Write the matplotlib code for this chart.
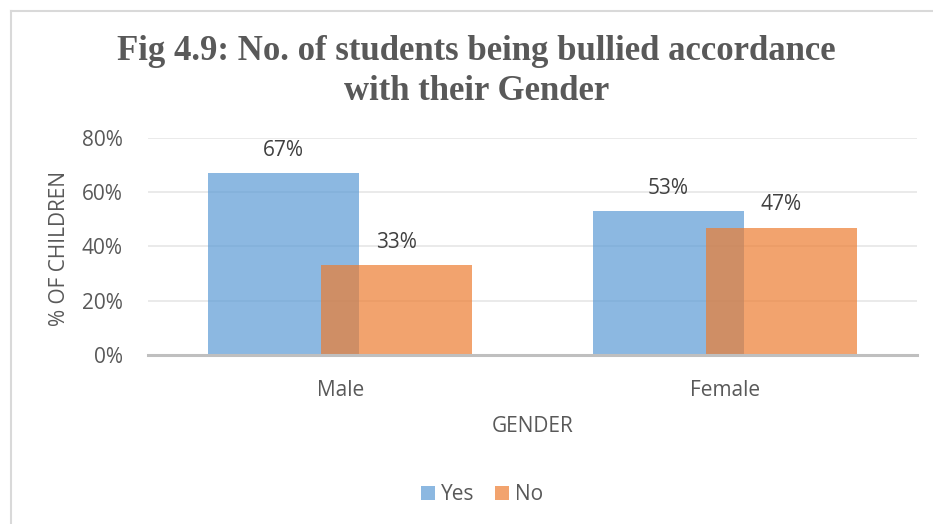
import numpy as np
import matplotlib.pyplot as plt
from matplotlib.lines import Line2D
from matplotlib.ticker import PercentFormatter

# dados do grafico
generos = ["Male", "Female"]
sim = [0.67, 0.53]
nao = [0.33, 0.47]
rotulos_sim = ["67%", "53%"]
rotulos_nao = ["33%", "47%"]

cinza = "#595959"
plt.rcParams["font.family"] = ["Open Sans", "DejaVu Sans"]

fig = plt.figure(figsize=(9.33, 5.24), dpi=100)
ax = fig.add_axes([148 / 933, 1 - 355 / 524, (917 - 148) / 933, (355 - 138) / 524])

x = np.arange(len(generos))
larg = 0.393
desl = 0.147
b1 = ax.bar(x - desl, sim, larg, color="#5B9BD5", alpha=0.7, label="Yes", zorder=2)
b2 = ax.bar(x + desl, nao, larg, color="#ED7D31", alpha=0.7, label="No", zorder=3)

# rotulos em cima das barras
for barras, rots in [(b1, rotulos_sim), (b2, rotulos_nao)]:
    for b, r in zip(barras, rots):
        ax.annotate(r, (b.get_x() + b.get_width() / 2, b.get_height()),
                    xytext=(0, 9), textcoords="offset points",
                    ha="center", va="bottom", fontsize=15, color="#404040")

ax.set_xlim(-0.5, 1.5)
ax.set_ylim(0, 0.8)
ax.set_yticks([0, 0.2, 0.4, 0.6, 0.8])
ax.yaxis.set_major_formatter(PercentFormatter(1.0, decimals=0))
ax.set_xticks(x)
ax.set_xticklabels(generos)
ax.tick_params(axis="both", length=0, labelsize=15, colors=cinza)
ax.tick_params(axis="x", pad=18)
ax.tick_params(axis="y", pad=18)
ax.grid(axis="y", color="#E6E6E6", linewidth=1.2, zorder=0)
ax.set_axisbelow(True)
for s in ["top", "right", "left"]:
    ax.spines[s].set_visible(False)
ax.spines["bottom"].set_color("#BFBFBF")
ax.spines["bottom"].set_linewidth(2.2)
ax.spines["bottom"].set_zorder(4)

ax.set_xlabel("GENDER", fontsize=15, color=cinza, va="center")
ax.xaxis.set_label_coords(0.5, (355 - 426) / 217)
ax.set_ylabel("% OF CHILDREN", fontsize=15, color=cinza, va="center")
ax.yaxis.set_label_coords((60 - 148) / 769, 0.49)

fig.text(0.511, 1 - 71 / 524, "Fig 4.9: No. of students being bullied accordance\nwith their Gender",
         ha="center", va="center", fontsize=25, fontweight="bold", color=cinza,
         family="Liberation Serif", linespacing=1.28)

fig.legend(handles=[b1, b2], labels=["Yes", "No"], loc="center",
           bbox_to_anchor=(482 / 933, 1 - 495 / 524), ncol=2, frameon=False,
           fontsize=15, labelcolor=cinza, handlelength=0.65, handleheight=0.65,
           handletextpad=0.3, columnspacing=1.0)

# borda da area do grafico
fig.add_artist(Line2D([11 / 933, 11 / 933], [0, 1 - 10.5 / 524], transform=fig.transFigure,
                      color="#D9D9D9", linewidth=1.5))
fig.add_artist(Line2D([11 / 933, 1], [1 - 10.5 / 524, 1 - 10.5 / 524], transform=fig.transFigure,
                      color="#D9D9D9", linewidth=1.5))

fig.savefig("out.png", dpi=100)
